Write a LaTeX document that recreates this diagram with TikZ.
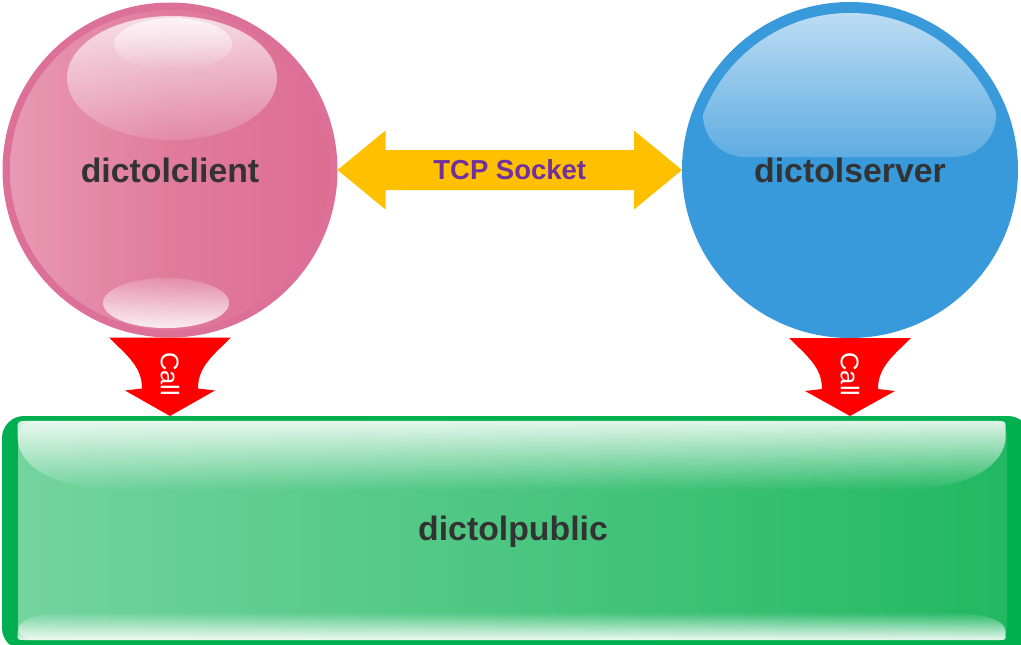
\documentclass[tikz,border=0pt]{standalone}
\usepackage{fontspec}
\setmainfont{Liberation Sans}
\usetikzlibrary{calc}
\usetikzlibrary{fadings}
\definecolor{pinkring}{HTML}{DC7096}
\definecolor{pinklight}{HTML}{E899B3}
\definecolor{pinkdark}{HTML}{DD6E93}
\definecolor{bluefill}{HTML}{3899DB}
\definecolor{greenring}{HTML}{00AF50}
\definecolor{greenlight}{HTML}{74D49E}
\definecolor{greendark}{HTML}{22B862}
\definecolor{socketcol}{HTML}{FFC000}
\definecolor{socketfont}{HTML}{7030A0}
\definecolor{callcol}{HTML}{FF0000}
\definecolor{namefont}{HTML}{333333}

\begin{document}
\begin{tikzpicture}[x=1pt,y=-1pt,
  ball/.style={circle,inner sep=0pt,outer sep=0pt,text=namefont,font=\bfseries\fontsize{33.8}{40}\selectfont},
  calltext/.style={text=white,rotate=-90,inner sep=0pt,font=\fontsize{25.5}{30}\selectfont},
  gloss/.style={white,fill opacity=#1}]
\useasboundingbox (0,0) rectangle (1021,645);
\fill[pinkring] (170,170) circle (167.5);
\shade[left color=pinklight,right color=pinkdark,middle color=pinkdark!70!pinklight] (170,170) circle (160);
\fill[gloss=0.12] (172,78) ellipse (105 and 62);
\fill[gloss=0.7,path fading=south] (172,78) ellipse (105 and 62);
\fill[gloss=0.7,path fading=south] (173,44) ellipse (59 and 26);
\fill[gloss=0.15] (166,303) ellipse (63 and 25);
\fill[gloss=0.85,path fading=north] (166,303) ellipse (63 and 25);
\fill[bluefill] (850,170) circle (168);
\begin{scope}
\clip (850,170) circle (157);
\fill[gloss=0.2,rounded corners=42] (703,5) rectangle (996,157);
\fill[gloss=0.62,path fading=south,rounded corners=42] (703,5) rectangle (996,157);
\end{scope}
\fill[greenring,rounded corners=22] (2,416) rectangle (1030,650);
\shade[left color=greenlight,right color=greendark,rounded corners=14] (18,421) rectangle (1007,640);
\fill[gloss=0.85,path fading=south] (18,436) .. controls (18,470) and (60,490) .. (130,490) -- (900,490) .. controls (970,490) and (1007,465) .. (1007,436) -- (1007,430) .. controls (1007,421) .. (998,421) -- (27,421) .. controls (18,421) .. (18,430) -- cycle;
\fill[gloss=0.9,path fading=north] (18,632) .. controls (18,618) and (40,612) .. (80,612) -- (940,612) .. controls (985,612) and (1007,620) .. (1007,632) -- (1007,634) .. controls (1007,640) .. (1000,640) -- (25,640) .. controls (18,640) .. (18,634) -- cycle;
\draw (170,170) node (client) [ball,minimum size=335] {dictolclient};
\draw (850,170) node (server) [ball,minimum size=336] {dictolserver};
\draw (513,532) node (public) [rectangle,inner sep=0pt,outer sep=0pt,minimum width=1022,minimum height=232,text=namefont,font=\bfseries\fontsize{33.8}{40}\selectfont] {dictolpublic};
\fill[socketcol] (client.east) -- ++(48,-39.5) -- ++(0,19.5) -- ($(server.west)+(-48,-20)$) -- ++(0,-19.5) -- (server.west) -- ++(-48,39.5) -- ++(0,-19.5) -- ($(client.east)+(48,20)$) -- ++(0,19.5) -- cycle;
\path (client.east) -- (server.west) node [midway,text=socketfont,font=\bfseries\fontsize{27.5}{32}\selectfont] (socket) {TCP Socket};
\fill[callcol] ($(client.south)+(-61,0)$) .. controls +(18,18) and +(0,-22) .. ($(client.south)+(-28,51)$) -- ++(-17,2) -- (client.south |- public.north) -- ($(client.south)+(45,53)$) -- ++(-17,-2) .. controls +(0,-22) and +(-18,18) .. ($(client.south)+(61,0)$) -- cycle;
\draw ($(client.south)+(0,36.5)$) node (call1) [calltext] {Call};
\fill[callcol] ($(server.south)+(-61,0)$) .. controls +(18,18) and +(0,-22) .. ($(server.south)+(-28,51)$) -- ++(-17,2) -- (server.south |- public.north) -- ($(server.south)+(45,53)$) -- ++(-17,-2) .. controls +(0,-22) and +(-18,18) .. ($(server.south)+(61,0)$) -- cycle;
\draw ($(server.south)+(0,36.5)$) node (call2) [calltext] {Call};
\end{tikzpicture}
\end{document}
